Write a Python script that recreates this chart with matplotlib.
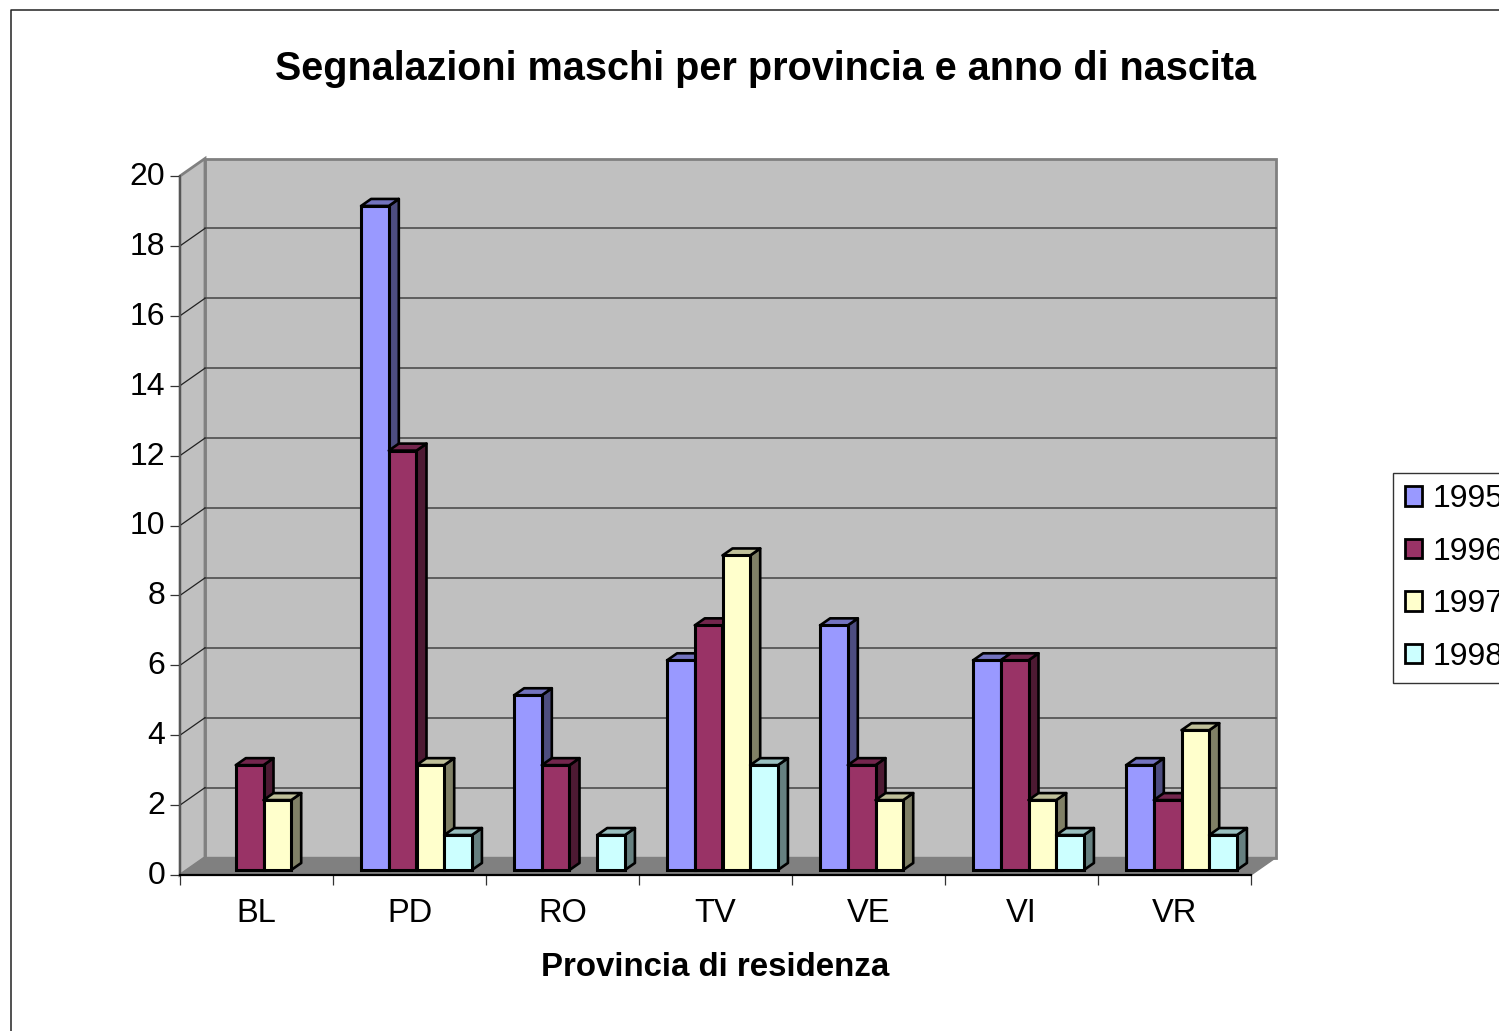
import matplotlib
matplotlib.use("Agg")
import matplotlib.pyplot as plt
import numpy as np
from matplotlib.lines import Line2D
from matplotlib.patches import Patch, Polygon
from matplotlib.transforms import Affine2D

plt.rcParams['font.family'] = ['Liberation Sans', 'DejaVu Sans']

# Datos
province = ["BL", "PD", "RO", "TV", "VE", "VI", "VR"]
anni = ["1995", "1996", "1997", "1998"]
v1995 = [0, 19, 5, 6, 7, 6, 3]
v1996 = [3, 12, 3, 7, 3, 6, 2]
v1997 = [2, 3, 0, 9, 2, 2, 4]
v1998 = [0, 1, 1, 3, 0, 1, 1]
serie = [v1995, v1996, v1997, v1998]
colori = ["#9999FF", "#993366", "#FFFFCC", "#CCFFFF"]

W, H = 1499, 1031
fig = plt.figure(figsize=(W / 100, H / 100), dpi=100)
ax = fig.add_axes([180 / W, 1 - 875 / H, 1071 / W, 699 / H])
ax.set_xlim(0, 7)
ax.set_ylim(0, 20)


# desplazamiento en pixeles sobre las coordenadas de datos
def sposta(dx, dy):
    return ax.transData + Affine2D().translate(dx, dy)


# pared, suelo y rejilla
DX, DY = 25, 17.5
back = sposta(DX, DY)
ax.add_patch(Polygon([(0, 0), (7, 0), (7, 20), (0, 20)], closed=True, transform=back,
                     fc="#C0C0C0", ec="#808080", lw=2, zorder=1, clip_on=False))

# vertices del lateral y del suelo: punto de datos + desplazamiento en pixeles
inv = ax.transData.inverted()


def in_dati(x, y, dx, dy):
    px = ax.transData.transform((x, y)) + np.array([dx, dy])
    return inv.transform(px)


ax.add_patch(Polygon([(0, 0), (0, 20), in_dati(0, 20, DX, DY), in_dati(0, 0, DX, DY)],
                     closed=True, fc="#C0C0C0", ec="#808080", lw=2, zorder=1, clip_on=False))
ax.add_patch(Polygon([(0, 0), (7, 0), in_dati(7, 0, DX, DY), in_dati(0, 0, DX, DY)],
                     closed=True, fc="#808080", ec="#808080", lw=1, zorder=1, clip_on=False))

for g in range(2, 20, 2):
    ax.plot([0, 7], [g, g], transform=back, color="#4D4D4D", lw=1.2, zorder=2, clip_on=False)
    p = in_dati(0, g, DX, DY)
    ax.plot([0, p[0]], [g, p[1]], color="#222222", lw=0.9, zorder=2, clip_on=False)

# barras
BX, BY = 7, 5
PX, PY = 10, 7
ancho = 27.7 / 153
inicio = 0.5 - 2 * ancho
front = sposta(BX, BY)
z = 3
for c in range(len(province)):
    for s in range(len(anni)):
        v = serie[s][c]
        if v == 0:
            continue
        x0 = c + inicio + s * ancho
        x1 = x0 + ancho
        rgb = np.array(matplotlib.colors.to_rgb(colori[s]))
        # lateral
        a = in_dati(x1, 0, BX, BY)
        b = in_dati(x1, v, BX, BY)
        d = in_dati(x1, v, BX + PX, BY + PY)
        e = in_dati(x1, 0, BX + PX, BY + PY)
        ax.add_patch(Polygon([a, b, d, e], closed=True, fc=rgb * 0.5, ec="black", lw=1.9,
                             joinstyle="round", zorder=z, clip_on=False))
        # tapa
        f = in_dati(x0, v, BX, BY)
        h = in_dati(x0, v, BX + PX, BY + PY)
        ax.add_patch(Polygon([f, b, d, h], closed=True, fc=rgb * 0.75, ec="black", lw=1.9,
                             joinstyle="round", zorder=z, clip_on=False))
        # frente
        ax.bar(x0, v, width=ancho, align="edge", color=colori[s], edgecolor="black", linewidth=2.2,
               transform=front, zorder=z + 0.5, clip_on=False)
        z += 1

# ejes
for lado in ["top", "right"]:
    ax.spines[lado].set_visible(False)
ax.spines["left"].set_color("#555555")
ax.spines["left"].set_linewidth(1.4)
ax.spines["bottom"].set_color("black")
ax.spines["bottom"].set_linewidth(1.6)
ax.spines["left"].set_zorder(2)
ax.spines["bottom"].set_zorder(2)
ax.patch.set_visible(False)
ax.set_yticks(range(0, 21, 2))
ax.set_xticks(range(0, 8))
ax.set_xticklabels([])
ax.set_xticks(np.arange(7) + 0.5, labels=province, minor=True)
ax.tick_params(axis="y", length=7.2, width=0.9, color="#333333", pad=3.5, labelsize=23)
ax.tick_params(axis="x", which="major", length=7.2, width=0.9, color="#333333")
ax.tick_params(axis="x", which="minor", length=0, pad=16.3, labelsize=23.5)
for t in ax.get_yticklabels():
    t.set_transform(t.get_transform() + Affine2D().translate(0, 2.5))

fig.text(715 / W, 1 - 968 / H, "Provincia di residenza", fontsize=23.8, fontweight="bold",
         ha="center", va="center")
fig.text(766 / W, 1 - 69 / H, "Segnalazioni maschi per provincia e anno di nascita",
         fontsize=28.5, fontweight="bold", ha="center", va="center")

# leyenda, cortada por el borde derecho como en el original
handles = [Patch(facecolor=colori[i], edgecolor="black", linewidth=2, label=anni[i]) for i in range(4)]
fig.legend(handles=handles, loc="upper left", bbox_to_anchor=(1393 / W, 1 - 473 / H),
           bbox_transform=fig.transFigure, borderaxespad=0, fontsize=23, fancybox=False,
           framealpha=1, edgecolor="#333333", handlelength=0.56, handleheight=0.56,
           handletextpad=0.33, labelspacing=0.7, borderpad=0.36)

# marco exterior
fig.add_artist(Line2D([11 / W, 11 / W, 1], [0, 1 - 10 / H, 1 - 10 / H], color="#222222", lw=1.1))

fig.savefig("out.png", dpi=100)
